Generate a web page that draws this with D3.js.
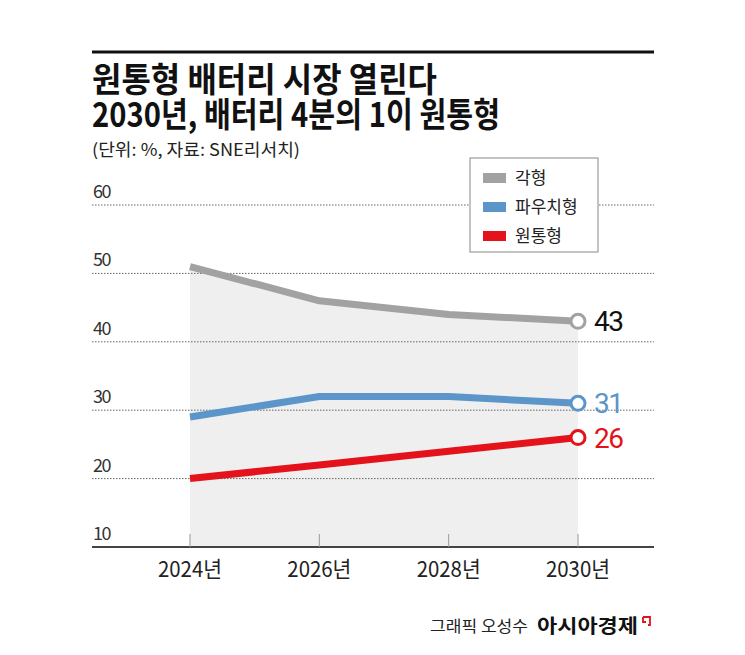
<!DOCTYPE html>
<html><head><meta charset="utf-8">
<script src="https://cdn.jsdelivr.net/npm/d3@7/dist/d3.min.js"></script>
<style>body{margin:0;background:#fff}svg{display:block}text{font-family:"Noto Sans CJK KR","Noto Sans",sans-serif}</style>
</head><body><svg id="c" width="745" height="655"></svg>
<script>
const years = ["2024년","2026년","2028년","2030년"];
const seriesNames = ["각형","파우치형","원통형"];
const prismatic = [51,46,44,43];
const pouch = [29,32,32,31];
const cylindrical = [20,22,24,26];
const yTicks = [10,20,30,40,50,60];
const titleLines = ["원통형 배터리 시장 열린다","2030년, 배터리 4분의 1이 원통형"];
const colors = ["#a2a2a2","#5b95c9","#e3121b"];
const labelColors = ["#111","#5b95c9","#e3121b"];
const series = [prismatic,pouch,cylindrical];

const svg = d3.select("#c");
const L=92,R=654;
const x = d3.scalePoint().domain(years).range([190,578]);
const y = d3.scaleLinear().domain([10,60]).range([547,205]);

// top rule
svg.append("line").attr("x1",L).attr("x2",R).attr("y1",52).attr("y2",52).attr("stroke","#111").attr("stroke-width",3);
// title (one text, two lines)
const title = svg.append("text").attr("font-size",34).attr("font-weight",700).attr("fill","#111");
title.append("tspan").attr("x",L).attr("y",92).attr("textLength",345).attr("lengthAdjust","spacingAndGlyphs").text(titleLines[0]);
title.append("tspan").attr("x",L).attr("y",127).attr("textLength",408).attr("lengthAdjust","spacingAndGlyphs").text(titleLines[1]);
svg.append("text").attr("x",L).attr("y",156).attr("font-size",17).attr("fill","#222")
  .attr("textLength",208).attr("lengthAdjust","spacingAndGlyphs").text("(단위: %, 자료: SNE리서치)");

// shaded area under top series
const area = d3.area().x((d,i)=>x(years[i])).y0(y(10)).y1(d=>y(d));
svg.append("path").datum(prismatic).attr("d",area).attr("fill","#efefef");

// grid
yTicks.filter(t=>t>10).forEach(t=>{
  svg.append("line").attr("x1",L).attr("x2",R).attr("y1",y(t)).attr("y2",y(t))
    .attr("stroke","#666").attr("stroke-width",1).attr("stroke-dasharray","1.5,1.5");
});
yTicks.forEach(t=>{
  svg.append("text").attr("x",L+1).attr("y",y(t)-7).attr("font-size",18).attr("fill","#333")
    .attr("letter-spacing",-1.5).text(t);
});

// x axis
svg.append("line").attr("x1",L).attr("x2",R).attr("y1",y(10)).attr("y2",y(10)).attr("stroke","#444").attr("stroke-width",2);
years.forEach(yr=>{
  svg.append("line").attr("x1",x(yr)).attr("x2",x(yr)).attr("y1",y(10)-13).attr("y2",y(10)).attr("stroke","#999").attr("stroke-width",1);
  svg.append("text").attr("x",x(yr)).attr("y",577).attr("text-anchor","middle").attr("font-size",22).attr("fill","#222")
    .attr("textLength",64).attr("lengthAdjust","spacingAndGlyphs").text(yr);
});

// lines
const line = d3.line().x((d,i)=>x(years[i])).y(d=>y(d));
series.forEach((s,k)=>{
  svg.append("path").datum(s).attr("d",line).attr("fill","none").attr("stroke",colors[k]).attr("stroke-width",7).attr("stroke-linejoin","round");
});
series.forEach((s,k)=>{
  const last = s[s.length-1];
  svg.append("circle").attr("cx",x(years[3])).attr("cy",y(last)).attr("r",7).attr("fill","#fff").attr("stroke",colors[k]).attr("stroke-width",3);
  svg.append("text").attr("x",x(years[3])+16).attr("y",y(last)+10).attr("font-size",28).attr("fill",labelColors[k])
    .style("font-family","Roboto, sans-serif").attr("letter-spacing",-1.5).text(last);
});

// legend
const lg = svg.append("g");
lg.append("rect").attr("x",470).attr("y",158).attr("width",128).attr("height",94).attr("fill","#fff").attr("stroke","#888").attr("stroke-width",1);
seriesNames.forEach((n,i)=>{
  const cy = 178+i*29;
  lg.append("rect").attr("x",483).attr("y",cy-5).attr("width",23).attr("height",10).attr("fill",colors[i]);
  lg.append("text").attr("x",515).attr("y",cy+6).attr("font-size",17).attr("fill","#222").text(n);
});

// footer
svg.append("text").attr("x",430).attr("y",632).attr("font-size",16).attr("fill","#222")
  .attr("textLength",98).attr("lengthAdjust","spacingAndGlyphs").text("그래픽 오성수");
svg.append("text").attr("x",537).attr("y",633).attr("font-size",19).attr("font-weight",700).attr("fill","#111")
  .attr("textLength",101).attr("lengthAdjust","spacingAndGlyphs").text("아시아경제");
svg.append("path").attr("d","M643,617 h7 v8 h-2 M643,617 v5 h3").attr("fill","none").attr("stroke","#e3121b").attr("stroke-width",1.8);
</script></body></html>
